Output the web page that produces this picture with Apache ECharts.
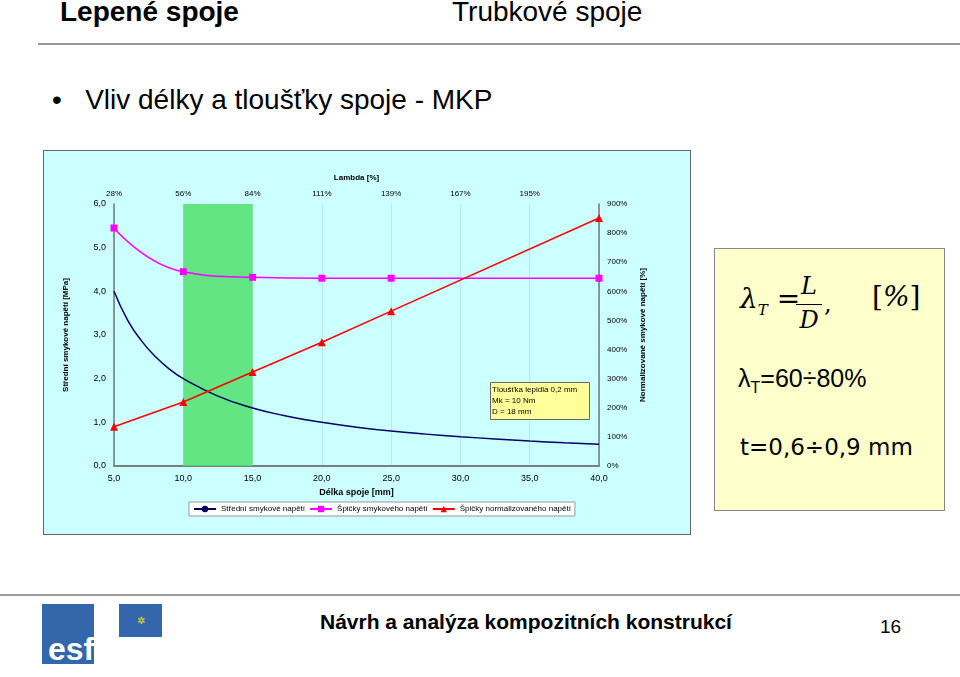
<!DOCTYPE html>
<html><head><meta charset="utf-8">
<script src="https://cdn.jsdelivr.net/npm/echarts@6/dist/echarts.min.js"></script>
<style>
body{margin:0;width:960px;height:677px;position:relative;background:#fff;font-family:Arial,"Liberation Sans",sans-serif;overflow:hidden}
.a{position:absolute;white-space:nowrap}
</style></head><body>
<div class="a" style="left:60px;top:-4px;font-size:28px;font-weight:bold">Lepené spoje</div>
<div class="a" style="left:452px;top:-4px;font-size:28px">Trubkové spoje</div>
<div class="a" style="left:38px;top:43px;width:922px;height:2px;background:#999"></div>
<div class="a" style="left:52px;top:84px;font-size:28px">•&nbsp;&nbsp;&nbsp;Vliv délky a tloušťky spoje - MKP</div>
<div id="c" class="a" style="left:43px;top:150px;width:646px;height:383px;background:#ccffff;border:1px solid #666"></div>
<div class="a" style="left:714px;top:248px;width:229px;height:261px;background:#ffffcc;border:1px solid #888"></div>
<div class="a" style="left:740px;top:282px;font-family:'DejaVu Serif',serif;font-size:28px;font-style:italic">λ<sub style="font-size:15px">T</sub> =</div>
<div class="a" style="left:794px;top:272px;font-family:'DejaVu Serif',serif;font-size:24px;font-style:italic;text-align:center;width:30px">L</div>
<div class="a" style="left:796px;top:304px;width:26px;height:1px;background:#000"></div>
<div class="a" style="left:794px;top:306px;font-family:'DejaVu Serif',serif;font-size:24px;font-style:italic;text-align:center;width:30px">D</div>
<div class="a" style="left:824px;top:290px;font-family:'DejaVu Serif',serif;font-size:24px">,</div>
<div class="a" style="left:872px;top:280px;font-family:'DejaVu Serif',serif;font-size:28px">[<i>%</i>]</div>
<div class="a" style="left:738px;top:364px;font-size:25px">λ<sub style="font-size:16px">T</sub>=60÷80%</div>
<div class="a" style="left:740px;top:434px;font-family:'DejaVu Sans';font-size:23px">t=0,6÷0,9 mm</div>
<div class="a" style="left:0;top:594px;width:960px;height:2px;background:#999"></div>
<div class="a" style="left:42px;top:604px;width:52px;height:60px;background:#3366aa"></div>
<div class="a" style="left:48px;top:636px;font-size:32px;font-weight:bold;color:#fff;line-height:26px">esf</div>
<div class="a" style="left:119px;top:604px;width:43px;height:33px;background:#3366aa;color:#ffdd00;font-size:10px;text-align:center;line-height:33px">✲</div>
<div class="a" style="left:320px;top:610px;font-size:21px;font-weight:bold">Návrh a analýza kompozitních konstrukcí</div>
<div class="a" style="left:880px;top:616px;font-size:19px">16</div>
<script>
const lengths = [5, 6, 7, 8, 9, 10, 12.5, 15, 17.5, 20, 22.5, 25, 27.5, 30, 32.5, 35, 37.5, 40];
const meanStress = [4.0, 3.33, 2.86, 2.5, 2.22, 2.0, 1.6, 1.33, 1.14, 1.0, 0.89, 0.8, 0.73, 0.67, 0.62, 0.57, 0.53, 0.5];
const peakLengths = [5, 10, 15, 20, 25, 40];
const peakStress = [5.45, 4.45, 4.32, 4.3, 4.3, 4.3];
const normPeak = [135, 220, 323, 425, 532, 852];
const lambdaLabels = ['28%', '56%', '84%', '111%', '139%', '167%', '195%'];

const chart = echarts.init(document.getElementById('c'));
const fs = 9, fc = '#000';
const comma = (v) => v.toFixed(1).replace('.', ',');
chart.setOption({
    textStyle: { fontFamily: 'Arial' },
    grid: { left: 70, right: 91, top: 53, bottom: 68 },
    legend: {
        bottom: 18, left: 145, itemWidth: 22, itemHeight: 8, itemGap: 4,
        backgroundColor: '#fff', borderColor: '#999', borderWidth: 1, padding: [3, 4],
        textStyle: { fontSize: 8, color: fc },
        data: ['Střední smykové napětí', 'Špičky smykového napětí', 'Špičky normalizovaného napětí']
    },
    xAxis: [{
        type: 'value', min: 5, max: 40, interval: 5, name: 'Délka spoje [mm]', nameLocation: 'middle', nameGap: 18,
        nameTextStyle: { fontSize: fs, fontWeight: 'bold', color: fc },
        axisLine: { lineStyle: { color: '#777', width: 1.5 } }, axisTick: { show: false },
        axisLabel: { fontSize: fs, color: fc, formatter: comma },
        splitLine: { show: true, lineStyle: { color: '#b8e8e8', width: 1 } }
    }, {
        type: 'value', min: 5, max: 40, interval: 5, position: 'top', name: 'Lambda [%]', nameLocation: 'middle', nameGap: 22,
        nameTextStyle: { fontSize: 8, fontWeight: 'bold', color: fc },
        axisLine: { lineStyle: { color: '#777', width: 1.5 } }, axisTick: { show: false }, splitLine: { show: false },
        axisLabel: { fontSize: 8, color: fc, margin: 6, formatter: (v) => lambdaLabels[Math.round((v - 5) / 5)] || '' }
    }],
    yAxis: [{
        type: 'value', min: 0, max: 6, interval: 1, name: 'Střední smykové napětí [MPa]', nameLocation: 'middle', nameGap: 44,
        nameTextStyle: { fontSize: 8, fontWeight: 'bold', color: fc },
        axisLine: { show: true, lineStyle: { color: '#777', width: 1.5 } }, axisTick: { show: false },
        axisLabel: { fontSize: fs, color: fc, formatter: comma }, splitLine: { show: false }
    }, {
        type: 'value', min: 0, max: 900, interval: 100, name: 'Normalizované smykové napětí [%]', nameLocation: 'middle', nameGap: 38,
        nameTextStyle: { fontSize: 8, fontWeight: 'bold', color: fc },
        axisLine: { show: true, lineStyle: { color: '#777', width: 1.5 } }, axisTick: { show: false },
        axisLabel: { fontSize: 8, color: fc, formatter: '{value}%' }, splitLine: { show: false }
    }],
    series: [{
        name: 'Střední smykové napětí', type: 'line', smooth: true, symbol: 'none',
        lineStyle: { color: '#000066', width: 1.5 }, itemStyle: { color: '#000066' },
        data: lengths.map((x, i) => [x, meanStress[i]])
    }, {
        name: 'Špičky smykového napětí', type: 'line', smooth: true, symbol: 'rect', symbolSize: 7,
        lineStyle: { color: '#ff00ff', width: 1.5 }, itemStyle: { color: '#ff00ff' },
        data: peakLengths.map((x, i) => [x, peakStress[i]])
    }, {
        name: 'Špičky normalizovaného napětí', type: 'line', yAxisIndex: 1, symbol: 'triangle', symbolSize: 8,
        lineStyle: { color: '#ff0000', width: 1.5 }, itemStyle: { color: '#ff0000' },
        data: peakLengths.map((x, i) => [x, normPeak[i]])
    }, {
        type: 'line', data: [], z: 5, silent: true,
        markArea: { silent: true, itemStyle: { color: 'rgba(80,224,110,0.85)' }, data: [[{ xAxis: 10 }, { xAxis: 15 }]] }
    }],
    graphic: [{
        type: 'rect', left: 446, top: 231, shape: { width: 99, height: 37 },
        style: { fill: '#ffff99', stroke: '#666', lineWidth: 1 }, z: 10
    }, {
        type: 'text', left: 448, top: 233, z: 11,
        style: { text: 'Tloušťka lepidla 0,2 mm\nMk = 10 Nm\nD = 18 mm', fontSize: 8, lineHeight: 11, fill: '#000' }
    }]
});
</script>
</body></html>
